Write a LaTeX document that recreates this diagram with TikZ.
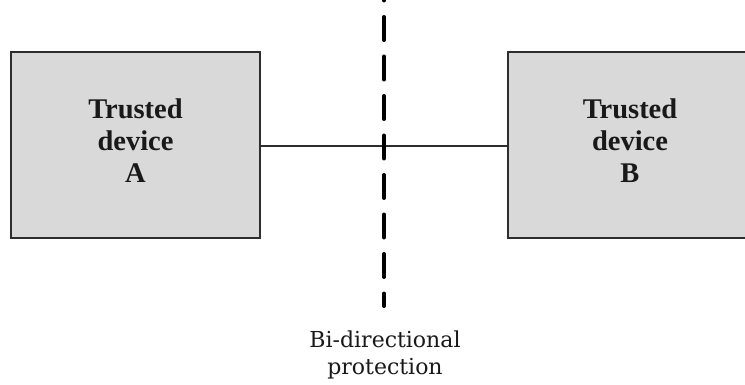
\documentclass[tikz,border=0pt]{standalone}
\usepackage{fontspec}
\setmainfont{DejaVu Serif}
\newfontfamily\boxfont{Liberation Serif}
\definecolor{boxfill}{RGB}{217,217,217}
\definecolor{boxline}{RGB}{45,45,45}
\tikzset{
  device/.style={draw=boxline, line width=1.5pt, fill=boxfill, minimum height=186pt,
    inner sep=0pt},
  devtext/.style={align=center, inner sep=0pt, text=black!90,
    font=\boxfont\fontsize{28.5}{32}\selectfont\bfseries},
  link/.style={draw=boxline, line width=1.5pt},
  border/.style={draw=black, line width=4pt, line cap=round, dash pattern=on 23pt off 16.5pt},
  caption/.style={align=center, inner sep=0pt, text=black!90, font=\fontsize{22}{27}\selectfont}
}
\begin{document}
\begin{tikzpicture}[x=1pt, y=-1pt]
\clip (0,0) rectangle (745,385);
\node[device, minimum width=249pt] (A) at (135.5,145) {};
\node[device, minimum width=245pt] (B) at (630.5,145) {};
\node[devtext] (At) at (135.5,141) {Trusted\\device\\A};
\node[devtext] (Bt) at (630,141) {Trusted\\device\\B};
\draw[link] (A.east |- 0,146) coordinate (la) -- (B.west |- 0,146) coordinate (lb);
\coordinate (top) at (384,-22.5);
\coordinate (bot) at (384,306);
\draw[border] (top) -- (bot);
\node[caption, anchor=north] (cap) at (385,331) {Bi-directional\\protection};
\end{tikzpicture}
\end{document}
